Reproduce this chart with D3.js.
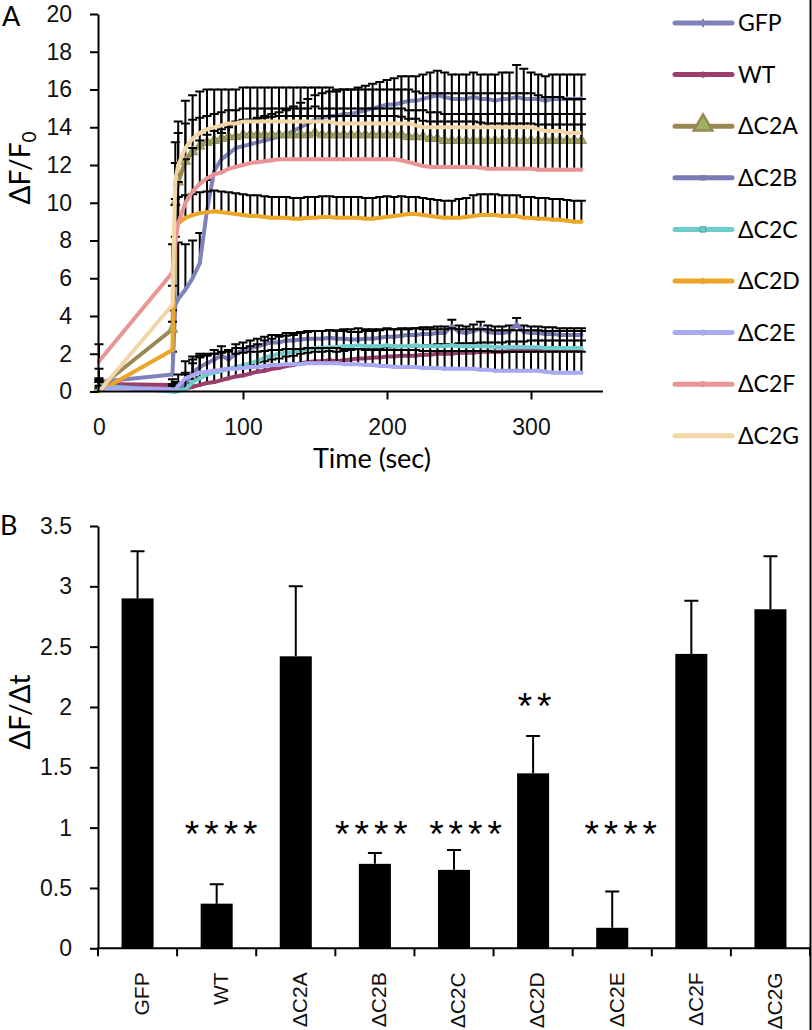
<!DOCTYPE html>
<html>
<head>
<meta charset="utf-8">
<script src="https://cdn.jsdelivr.net/npm/d3@7"></script>
<style>
  body { margin: 0; background: #fff; }
  svg { display: block; font-family: Lato, "Open Sans", sans-serif; }
  .axis path, .axis line { stroke: #000; stroke-width: 2; }
  .axis text { font-size: 23px; fill: #111; }
</style>
</head>
<body>
<script>
// ---- data for panel A (time course) ----
var times = [0, 51, 53, 55, 60, 65, 70, 75, 80, 85, 90, 95, 100, 105, 110, 115, 120, 125, 130, 135,
  140, 145, 150, 155, 160, 165, 170, 175, 180, 185, 190, 195, 200, 205, 210, 215, 220, 225, 230, 235,
  240, 245, 250, 255, 260, 265, 270, 275, 280, 285, 290, 295, 300, 305, 310, 315, 320, 325, 330, 335];

var seriesNames = ["GFP", "WT", "ΔC2A", "ΔC2B", "ΔC2C", "ΔC2D", "ΔC2E", "ΔC2F", "ΔC2G"];

var gfp = [0.5, 0.9, 4.6, 4.9, 5.4, 6.0, 6.8, 9.6, 11.7, 12.3,
  12.6, 12.9, 13.0, 13.1, 13.2, 13.3, 13.4, 13.5, 13.6, 13.8,
  14.0, 14.2, 14.4, 14.5, 14.6, 14.6, 14.7, 14.7, 14.8, 14.9,
  15.0, 15.1, 15.2, 15.2, 15.3, 15.4, 15.4, 15.5, 15.6, 15.7,
  15.6, 15.5, 15.5, 15.5, 15.6, 15.5, 15.5, 15.4, 15.5, 15.5,
  15.6, 15.5, 15.5, 15.5, 15.4, 15.5, 15.5, 15.5, 15.5, 15.5];
var gfpErr = [0.7, 1.2, 3.6, 3.0, 2.4, 2.0, 1.6, 1.6, 1.5, 1.4,
  1.4, 1.4, 1.4, 1.3, 1.3, 1.3, 1.3, 1.3, 1.3, 1.3,
  1.3, 1.3, 1.3, 1.3, 1.3, 1.3, 1.3, 1.3, 1.3, 1.3,
  1.3, 1.3, 1.3, 1.4, 1.4, 1.3, 1.3, 1.3, 1.3, 1.3,
  1.3, 1.3, 1.3, 1.3, 1.3, 1.3, 1.3, 1.4, 1.4, 1.4,
  1.7, 1.6, 1.4, 1.3, 1.3, 1.3, 1.3, 1.3, 1.3, 1.3];

var wt = [0.4, 0.35, 0.2, 0.1, 0.15, 0.25, 0.35, 0.45, 0.5, 0.6,
  0.7, 0.8, 0.85, 0.95, 1.05, 1.1, 1.2, 1.25, 1.35, 1.4,
  1.5, 1.55, 1.6, 1.6, 1.65, 1.6, 1.65, 1.7, 1.75, 1.75,
  1.8, 1.8, 1.85, 1.85, 1.9, 1.9, 1.9, 1.95, 1.95, 2.0,
  2.0, 2.0, 2.05, 2.05, 2.05, 2.1, 2.1, 2.1, 2.1, 2.15,
  2.15, 2.15, 2.2, 2.2, 2.2, 2.2, 2.2, 2.2, 2.2, 2.2];
var wtErr = [0.3, 0.3, 0.2, 0.2, 0.3, 0.4, 0.4, 0.5, 0.5, 0.5,
  0.5, 0.5, 0.5, 0.5, 0.5, 0.5, 0.5, 0.5, 0.5, 0.5,
  0.5, 0.5, 0.5, 0.5, 0.5, 0.5, 0.5, 0.5, 0.5, 0.5,
  0.5, 0.5, 0.5, 0.5, 0.5, 0.5, 0.5, 0.5, 0.5, 0.5,
  0.5, 0.5, 0.5, 0.5, 0.5, 0.5, 0.5, 0.5, 0.5, 0.5,
  0.5, 0.5, 0.5, 0.5, 0.5, 0.5, 0.5, 0.5, 0.5, 0.5];

var dc2a = [0.2, 3.3, 10.0, 11.1, 12.2, 12.7, 13.0, 13.2, 13.3, 13.4,
  13.5, 13.5, 13.6, 13.6, 13.6, 13.6, 13.6, 13.6, 13.6, 13.6,
  13.6, 13.6, 13.7, 13.6, 13.6, 13.6, 13.6, 13.6, 13.6, 13.6,
  13.6, 13.6, 13.6, 13.6, 13.6, 13.5, 13.5, 13.5, 13.4, 13.4,
  13.3, 13.3, 13.3, 13.3, 13.3, 13.3, 13.3, 13.3, 13.3, 13.3,
  13.3, 13.3, 13.3, 13.3, 13.3, 13.3, 13.3, 13.3, 13.3, 13.3];
var dc2aErr = [0.3, 1.0, 2.1, 2.6, 2.0, 1.7, 1.5, 1.4, 1.4, 1.4,
  1.4, 1.4, 1.4, 1.4, 1.4, 1.4, 1.4, 1.4, 1.4, 1.4,
  1.4, 1.4, 1.4, 1.4, 1.4, 1.4, 1.4, 1.4, 1.4, 1.4,
  1.4, 1.4, 1.4, 1.4, 1.4, 1.4, 1.4, 1.4, 1.4, 1.4,
  1.4, 1.4, 1.4, 1.4, 1.4, 1.4, 1.4, 1.4, 1.4, 1.4,
  1.4, 1.4, 1.4, 1.4, 1.4, 1.4, 1.4, 1.4, 1.4, 1.4];

var dc2b = [0.3, 0.1, 0.0, 0.05, 0.4, 1.0, 1.3, 1.5, 1.7, 1.9,
  1.7, 2.0, 2.2, 2.3, 2.4, 2.5, 2.6, 2.6, 2.7, 2.7,
  2.75, 2.8, 2.8, 2.8, 2.85, 2.8, 2.8, 2.75, 2.75, 2.8,
  2.8, 2.85, 2.9, 2.9, 2.95, 3.0, 3.0, 3.05, 3.05, 3.1,
  3.1, 3.45, 3.15, 3.1, 3.2, 3.35, 3.15, 3.1, 3.1, 3.15,
  3.55, 3.15, 3.1, 3.1, 3.05, 3.05, 3.0, 3.0, 3.0, 3.0];
var dc2bErr = [0.3, 0.3, 0.3, 0.3, 0.6, 0.7, 0.6, 0.5, 0.5, 0.5,
  0.5, 0.5, 0.4, 0.4, 0.4, 0.4, 0.4, 0.4, 0.4, 0.4,
  0.4, 0.4, 0.4, 0.4, 0.4, 0.4, 0.4, 0.4, 0.4, 0.4,
  0.4, 0.4, 0.4, 0.4, 0.4, 0.35, 0.35, 0.35, 0.35, 0.35,
  0.35, 0.35, 0.35, 0.35, 0.35, 0.35, 0.35, 0.35, 0.35, 0.35,
  0.35, 0.35, 0.35, 0.35, 0.35, 0.35, 0.35, 0.35, 0.35, 0.35];

var dc2c = [0.3, 0.0, 0.0, 0.05, 0.1, 0.5, 0.7, 0.9, 1.0, 1.1,
  1.2, 1.3, 1.4, 1.5, 1.6, 1.8, 1.9, 2.0, 2.05, 2.1,
  2.2, 2.25, 2.3, 2.3, 2.35, 2.35, 2.4, 2.4, 2.45, 2.4,
  2.4, 2.4, 2.45, 2.4, 2.4, 2.4, 2.45, 2.4, 2.4, 2.4,
  2.4, 2.45, 2.4, 2.4, 2.4, 2.4, 2.4, 2.35, 2.35, 2.35,
  2.35, 2.35, 2.35, 2.35, 2.3, 2.3, 2.3, 2.3, 2.3, 2.3];
var dc2cErr = [0.3, 0.3, 0.3, 0.4, 0.8, 1.0, 1.1, 1.0, 1.0, 1.0,
  1.0, 1.0, 0.9, 0.9, 0.9, 0.9, 0.9, 0.9, 0.9, 0.9,
  0.9, 0.9, 0.9, 0.9, 0.9, 0.9, 0.9, 0.9, 0.9, 0.9,
  0.9, 0.9, 0.9, 0.9, 0.9, 0.9, 0.9, 0.9, 0.9, 0.9,
  0.9, 0.9, 0.9, 0.9, 0.9, 0.9, 0.9, 0.9, 0.9, 0.9,
  0.9, 0.9, 0.9, 0.9, 0.9, 0.9, 0.9, 0.9, 0.9, 0.9];

var dc2d = [0.0, 2.2, 8.4, 8.9, 9.2, 9.35, 9.45, 9.5, 9.55, 9.5,
  9.45, 9.4, 9.35, 9.3, 9.3, 9.25, 9.2, 9.2, 9.2, 9.15,
  9.15, 9.2, 9.2, 9.25, 9.25, 9.2, 9.2, 9.2, 9.2, 9.15,
  9.15, 9.2, 9.25, 9.3, 9.35, 9.4, 9.4, 9.35, 9.3, 9.25,
  9.2, 9.2, 9.2, 9.25, 9.3, 9.35, 9.35, 9.35, 9.3, 9.3,
  9.3, 9.2, 9.2, 9.15, 9.15, 9.1, 9.1, 9.05, 9.0, 9.0];
var dc2dErr = [0.2, 1.5, 1.8, 1.4, 1.2, 1.1, 1.1, 1.1, 1.1, 1.1,
  1.1, 1.1, 1.1, 1.1, 1.1, 1.1, 1.1, 1.1, 1.1, 1.1,
  1.1, 1.1, 1.1, 1.1, 1.1, 1.1, 1.1, 1.1, 1.1, 1.1,
  1.1, 1.1, 1.1, 1.0, 1.0, 0.9, 0.9, 0.9, 0.9, 0.9,
  0.9, 0.9, 1.0, 1.0, 1.1, 1.1, 1.1, 1.1, 1.1, 1.1,
  1.1, 1.1, 1.1, 1.1, 1.1, 1.1, 1.1, 1.1, 1.1, 1.1];

var dc2e = [0.2, 0.1, 0.1, 0.3, 0.7, 0.85, 1.0, 1.05, 1.1, 1.15,
  1.2, 1.2, 1.25, 1.3, 1.3, 1.35, 1.4, 1.4, 1.45, 1.45,
  1.45, 1.5, 1.5, 1.5, 1.5, 1.5, 1.45, 1.45, 1.45, 1.4,
  1.4, 1.35, 1.35, 1.3, 1.3, 1.3, 1.3, 1.25, 1.25, 1.25,
  1.2, 1.2, 1.2, 1.2, 1.2, 1.15, 1.15, 1.1, 1.1, 1.1,
  1.1, 1.1, 1.1, 1.1, 1.05, 1.0, 1.0, 1.0, 1.0, 1.0];
var dc2eErr = [0.3, 0.3, 0.4, 0.6, 0.9, 1.0, 1.0, 0.9, 0.9, 0.9,
  0.9, 0.8, 0.8, 0.8, 0.8, 0.8, 0.8, 0.8, 0.8, 0.8,
  0.8, 0.8, 0.8, 0.8, 0.8, 0.8, 0.8, 0.8, 0.8, 0.8,
  0.8, 0.85, 0.85, 0.9, 0.9, 0.9, 0.9, 0.9, 0.9, 0.9,
  0.95, 0.95, 0.95, 0.95, 0.95, 1.0, 1.0, 1.0, 1.0, 1.0,
  1.0, 1.0, 1.0, 1.0, 1.05, 1.1, 1.1, 1.1, 1.1, 1.1];

var dc2f = [1.6, 6.3, 7.9, 8.9, 10.0, 10.6, 11.0, 11.3, 11.5, 11.6,
  11.8, 11.9, 12.0, 12.1, 12.15, 12.2, 12.25, 12.3, 12.3, 12.3,
  12.3, 12.3, 12.3, 12.3, 12.3, 12.3, 12.3, 12.3, 12.3, 12.3,
  12.3, 12.3, 12.3, 12.3, 12.25, 12.15, 12.05, 11.95, 11.9, 11.9,
  11.9, 11.9, 11.9, 11.9, 11.9, 11.85, 11.8, 11.8, 11.8, 11.8,
  11.8, 11.8, 11.8, 11.75, 11.75, 11.75, 11.75, 11.75, 11.75, 11.75];
var dc2fErr = [0.9, 1.5, 2.0, 2.2, 2.3, 2.3, 2.3, 2.3, 2.3, 2.3,
  2.3, 2.3, 2.3, 2.3, 2.3, 2.3, 2.3, 2.3, 2.3, 2.3,
  2.3, 2.3, 2.3, 2.3, 2.3, 2.3, 2.3, 2.3, 2.3, 2.3,
  2.3, 2.3, 2.3, 2.3, 2.3, 2.3, 2.4, 2.4, 2.4, 2.4,
  2.4, 2.4, 2.4, 2.4, 2.4, 2.4, 2.4, 2.4, 2.4, 2.4,
  2.4, 2.4, 2.4, 2.4, 2.4, 2.4, 2.4, 2.4, 2.4, 2.4];

var dc2g = [0.0, 4.6, 11.2, 12.0, 12.9, 13.4, 13.7, 13.9, 14.0, 14.1,
  14.2, 14.2, 14.3, 14.3, 14.3, 14.3, 14.3, 14.3, 14.3, 14.3,
  14.3, 14.3, 14.3, 14.3, 14.3, 14.2, 14.2, 14.2, 14.2, 14.2,
  14.2, 14.2, 14.2, 14.2, 14.2, 14.2, 14.1, 14.0, 14.0, 14.0,
  14.0, 14.0, 14.0, 14.0, 14.0, 14.0, 14.0, 14.0, 14.0, 14.0,
  14.0, 14.0, 14.0, 13.9, 13.8, 13.8, 13.8, 13.7, 13.7, 13.7];
var dc2gErr = [0.3, 1.0, 2.0, 2.3, 2.5, 2.3, 2.2, 2.1, 2.0, 1.9,
  1.8, 1.8, 1.8, 1.8, 1.8, 1.8, 1.8, 1.8, 1.8, 1.8,
  1.8, 1.8, 1.8, 1.8, 1.8, 1.8, 1.8, 1.8, 1.8, 1.8,
  1.8, 1.8, 1.8, 1.8, 1.8, 1.8, 1.8, 1.8, 1.8, 1.8,
  1.8, 1.8, 1.8, 1.8, 1.8, 1.8, 1.8, 1.8, 1.8, 1.8,
  1.8, 1.8, 1.8, 1.8, 1.8, 1.8, 1.8, 1.8, 1.8, 1.8];

var seriesValues = [gfp, wt, dc2a, dc2b, dc2c, dc2d, dc2e, dc2f, dc2g];
var seriesErrors = [gfpErr, wtErr, dc2aErr, dc2bErr, dc2cErr, dc2dErr, dc2eErr, dc2fErr, dc2gErr];

// ---- data for panel B (rates) ----
var rateCats = ["GFP", "WT", "ΔC2A", "ΔC2B", "ΔC2C", "ΔC2D", "ΔC2E", "ΔC2F", "ΔC2G"];
var rates = [2.90, 0.37, 2.42, 0.70, 0.65, 1.45, 0.17, 2.44, 2.81];
var rateErr = [0.39, 0.16, 0.58, 0.09, 0.165, 0.31, 0.30, 0.44, 0.44];
var stars = ["", "****", "", "****", "****", "**", "****", "", ""];

// styles (colours, marker shapes, star label nudges)
var colors = ["#7f82bb", "#9b3e6c", "#9a8752", "#7a7ab5", "#6fcccc", "#eba628", "#a9a9f2", "#e99595", "#f3d6a6"];
var shapes = [d3.symbolDiamond, d3.symbolCircle, d3.symbolTriangle, d3.symbolSquare, d3.symbolSquare,
  d3.symbolCircle, d3.symbolCircle, d3.symbolCircle, null];
var starNudge = [0, 4, 0, -4, 11, 1, 8, 0, 0];

var width = 812, height = 1030;

var svg = d3.select("body").append("svg")
  .attr("width", width)
  .attr("height", height);

// ================= Panel A =================
var xA = d3.scaleLinear().domain([0, 350]).range([99, 603]);
var yA = d3.scaleLinear().domain([0, 20]).range([391.5, 14]);

var gA = svg.append("g");

var line = d3.line()
  .x(function(d, i) { return xA(times[i]); })
  .y(function(d) { return yA(d); });

seriesValues.forEach(function(vals, s) {
  var g = gA.append("g").attr("class", "series");
  var errs = seriesErrors[s];

  // error bars go upward only, drawn under the series line
  g.selectAll("path.err")
    .data(vals)
    .enter().append("path")
    .attr("class", "err")
    .attr("d", function(d, i) {
      var x = xA(times[i]), y0 = yA(d), y1 = yA(d + errs[i]);
      return "M" + x + "," + y0 + "V" + y1 + "M" + (x - 4.5) + "," + y1 + "H" + (x + 4.5);
    })
    .attr("fill", "none")
    .attr("stroke", "#000")
    .attr("stroke-width", 2);

  g.append("path")
    .attr("d", line(vals))
    .attr("fill", "none")
    .attr("stroke", colors[s])
    .attr("stroke-width", 4)
    .attr("stroke-linejoin", "round");

  if (shapes[s]) {
    var big = s === 2;
    g.selectAll("path.mk")
      .data(vals)
      .enter().append("path")
      .attr("class", "mk")
      .attr("transform", function(d, i) { return "translate(" + xA(times[i]) + "," + yA(d) + ")"; })
      .attr("d", d3.symbol().type(shapes[s]).size(big ? 46 : 14))
      .attr("fill", big ? "#9db063" : colors[s])
      .attr("stroke", big ? "#9a8752" : "none")
      .attr("stroke-width", 1);
  }
});

// axes
var axisYA = d3.axisLeft(yA)
  .tickValues(d3.range(0, 21, 2))
  .tickSize(8).tickPadding(18).tickSizeOuter(0);
gA.append("g").attr("class", "axis")
  .attr("transform", "translate(98,0)")
  .call(axisYA);

var axisXA = d3.axisBottom(xA)
  .tickValues([0, 100, 200, 300])
  .tickSize(8).tickPadding(19).tickSizeOuter(0);
var gxA = gA.append("g").attr("class", "axis")
  .attr("transform", "translate(0,391.5)")
  .call(axisXA);
gxA.select(".domain").attr("d", "M97,0H603");
gxA.selectAll(".tick").filter(function(d) { return d === 0; }).select("line").remove();

gA.append("text")
  .attr("x", 372).attr("y", 468)
  .attr("text-anchor", "middle")
  .attr("font-size", 27)
  .text("Time (sec)");

var yTitle = gA.append("text")
  .attr("transform", "translate(30,168) rotate(-90)")
  .attr("text-anchor", "middle")
  .attr("font-size", 28);
yTitle.append("tspan").text("ΔF/F");
yTitle.append("tspan").attr("font-size", 19).attr("dy", 6).text("0");

gA.append("text").attr("x", 2).attr("y", 26).attr("font-size", 27).text("A");

// legend
var legend = gA.selectAll("g.legend")
  .data(seriesNames)
  .enter().append("g")
  .attr("class", "legend")
  .attr("transform", function(d, i) { return "translate(0," + (23 + i * 51.6) + ")"; });

legend.append("line")
  .attr("x1", 675).attr("x2", 732)
  .attr("stroke", function(d, i) { return colors[i]; })
  .attr("stroke-width", 5)
  .attr("stroke-linecap", "round");

legend.filter(function(d, i) { return shapes[i]; })
  .append("path")
  .attr("transform", function(d) { return seriesNames.indexOf(d) === 2 ? "translate(703,-1)" : "translate(703,0)"; })
  .attr("d", function(d) {
    var i = seriesNames.indexOf(d);
    return d3.symbol().type(shapes[i]).size(i === 2 ? 150 : 30)();
  })
  .attr("fill", function(d) { var i = seriesNames.indexOf(d); return i === 2 ? "#9db063" : colors[i]; })
  .attr("stroke", function(d) { var i = seriesNames.indexOf(d); return i === 2 ? "#9a8752" : (i === 4 ? "#4aa6ad" : "none"); })
  .attr("stroke-width", function(d) { return seriesNames.indexOf(d) === 2 ? 2.5 : 1; });

legend.append("text")
  .attr("x", 738)
  .attr("dy", "0.36em")
  .attr("font-size", 23)
  .text(function(d) { return d; });

// ================= Panel B =================
var xB = d3.scaleBand().domain(rateCats).range([98, 810]).paddingInner(0.595).paddingOuter(0.2975);
var yB = d3.scaleLinear().domain([0, 3.5]).range([948.3, 526]);

var gB = svg.append("g");

gB.selectAll("rect.bar")
  .data(rates)
  .enter().append("rect")
  .attr("class", "bar")
  .attr("x", function(d, i) { return xB(rateCats[i]); })
  .attr("width", xB.bandwidth())
  .attr("y", function(d) { return yB(d); })
  .attr("height", function(d) { return yB(0) - yB(d); })
  .attr("fill", "#000");

gB.selectAll("path.berr")
  .data(rates)
  .enter().append("path")
  .attr("class", "berr")
  .attr("d", function(d, i) {
    var cx = xB(rateCats[i]) + xB.bandwidth() / 2, top = yB(d + rateErr[i]);
    return "M" + cx + "," + yB(d) + "V" + top + "M" + (cx - 7) + "," + top + "H" + (cx + 7);
  })
  .attr("fill", "none")
  .attr("stroke", "#000")
  .attr("stroke-width", 2);

// significance stars
gB.selectAll("text.star")
  .data(stars)
  .enter().append("text")
  .attr("class", "star")
  .attr("x", function(d, i) { return xB(rateCats[i]) + xB.bandwidth() / 2 + 3 + starNudge[i]; })
  .attr("y", function(d, i) {
    var lvl = d.length > 2 ? 1.0 : rates[i] + rateErr[i] + 0.3;
    return yB(lvl) + 19;
  })
  .attr("text-anchor", "middle")
  .attr("font-family", "'Liberation Sans', Arial, sans-serif")
  .attr("font-size", 37)
  .attr("letter-spacing", 5)
  .text(function(d) { return d; });

var axisYB = d3.axisLeft(yB)
  .tickValues(d3.range(0, 3.51, 0.5))
  .tickFormat(d3.format("~g"))
  .tickSize(8).tickPadding(18).tickSizeOuter(0);
gB.append("g").attr("class", "axis")
  .attr("transform", "translate(98,0)")
  .call(axisYB);

var axisXB = d3.axisBottom(xB).tickSize(0).tickSizeOuter(0);
var gxB = gB.append("g").attr("class", "axis")
  .attr("transform", "translate(0,948.3)")
  .call(axisXB);
gxB.select(".domain").attr("d", "M97,0H811");
gxB.selectAll(".tick text")
  .attr("transform", "rotate(-90)")
  .attr("text-anchor", "end")
  .attr("x", -24).attr("y", 4).attr("dy", "0.35em")
  .style("font-family", "'Liberation Sans', Arial, sans-serif")
  .style("font-size", "21px");

// category boundary ticks
gxB.selectAll("line.sep")
  .data(d3.range(rateCats.length + 1))
  .enter().append("line")
  .attr("class", "sep")
  .attr("x1", function(i) { return 98 + i * xB.step(); })
  .attr("x2", function(i) { return 98 + i * xB.step(); })
  .attr("y1", 0).attr("y2", 8);

gB.append("text")
  .attr("transform", "translate(30,712) rotate(-90)")
  .attr("text-anchor", "middle")
  .attr("font-size", 28)
  .text("ΔF/Δt");

gB.append("text").attr("x", 0).attr("y", 535).attr("font-size", 27).text("B");

// frame line at the right edge
svg.append("line")
  .attr("x1", 810.5).attr("x2", 810.5)
  .attr("y1", 0).attr("y2", height)
  .attr("stroke", "#000").attr("stroke-width", 2);
</script>
</body>
</html>
